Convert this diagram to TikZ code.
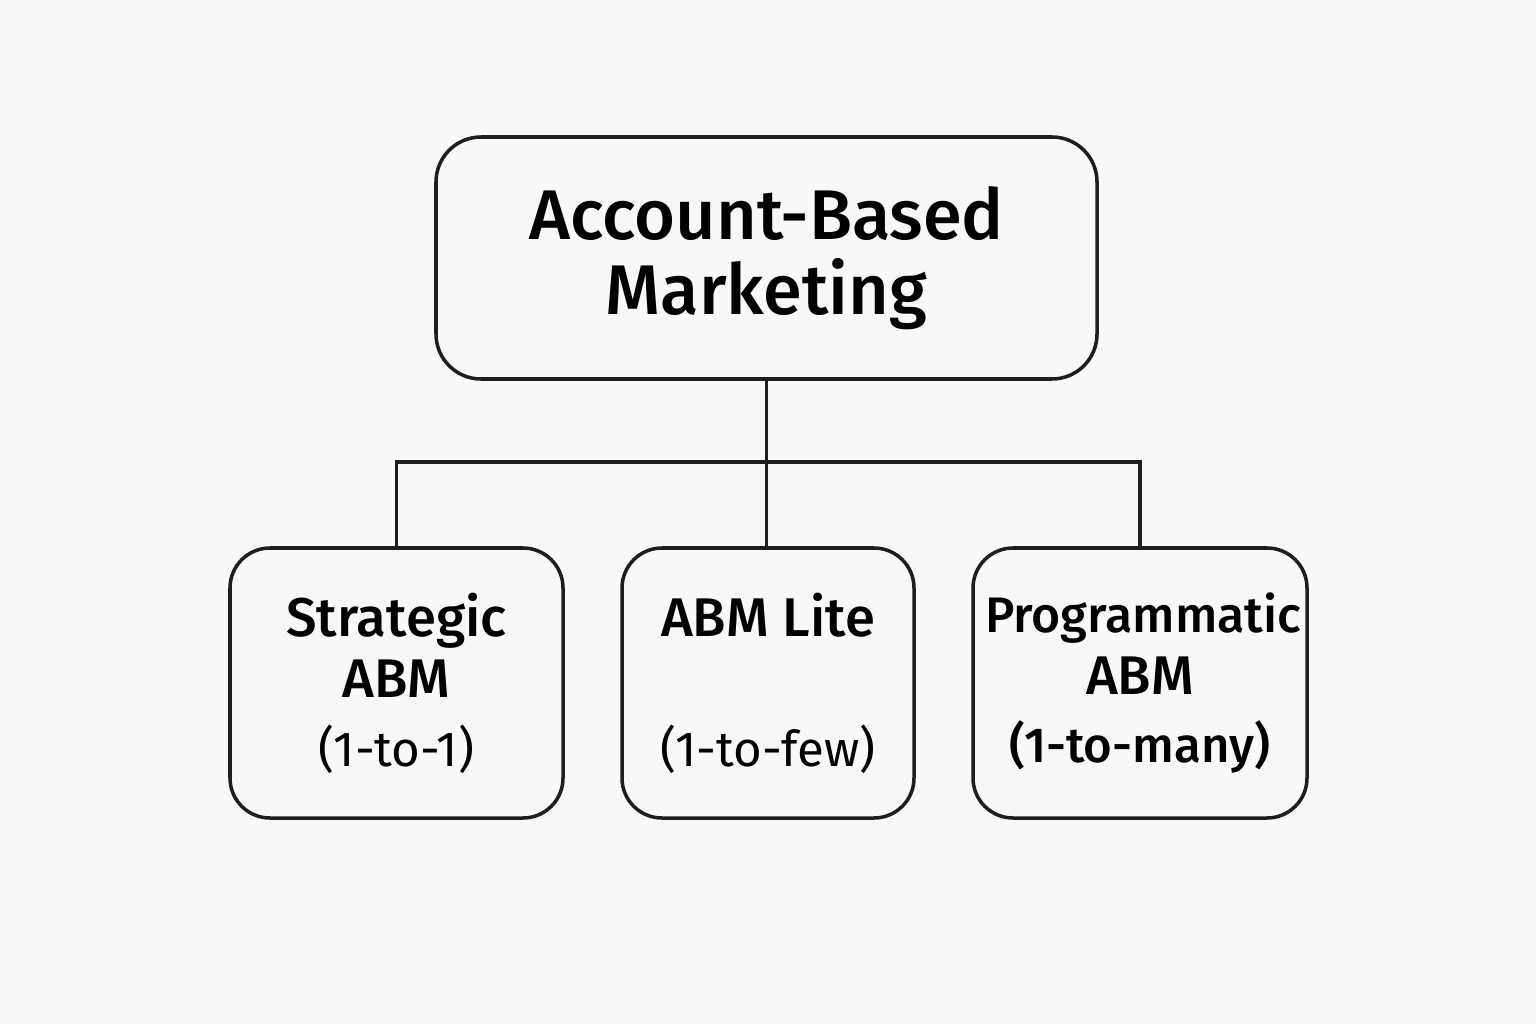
\documentclass[tikz,border=0pt]{standalone}
\usepackage{fontspec}
\setmainfont{Fira Sans}[BoldFont={Fira Sans Medium}]
\usetikzlibrary{positioning}
\definecolor{paper}{HTML}{F9F8F6}
\definecolor{ink}{HTML}{1E1E1E}
\begin{document}
\begin{tikzpicture}
        % Define styles
        \tikzset{
            root/.style={rectangle, rounded corners=0.45cm, draw=ink, line width=1pt, minimum width=6.61cm, minimum height=2.42cm, align=center, font=\fontsize{20}{21.5}\selectfont\bfseries},
            branch/.style={rectangle, rounded corners=0.4cm, draw=ink, line width=1pt, minimum height=2.70cm, inner xsep=0pt, align=center, font=\fontsize{15.5}{17.5}\selectfont},
            link/.style={draw=ink, line width=1pt}
        }
        \fill[paper] (0,0) rectangle (15.36,10.24);

        % Nodes
        \node[root] (abm) at (7.665,7.66) {Account-Based\\Marketing};
        \node[branch, minimum width=3.33cm] (strategic) at (3.965,3.41) {\bfseries Strategic\\\bfseries ABM\\[2pt]{\fontsize{14}{16}\selectfont (1-to-1)}};
        \node[branch, minimum width=2.92cm] (lite) at (7.68,3.41) {\bfseries ABM Lite\\ \\[2pt]{\fontsize{14}{16}\selectfont (1-to-few)}};
        \node[branch, minimum width=3.34cm, text width=3.1cm] (programmatic) at (11.40,3.41) {{\fontsize{14.2}{17.5}\selectfont\bfseries Programmatic}\\\bfseries ABM\\[2pt]{\fontsize{14}{16}\selectfont (1-to-many)}};
        \coordinate (hub) at (7.665,5.62);

        % Connectors
        \draw[link] (abm.south) -- (hub);
        \draw[link] (hub) -| (strategic.north);
        \draw[link] (hub) -| (programmatic.north);
        \draw[link] (hub) -- (lite.north -| hub);
\end{tikzpicture}
\end{document}
